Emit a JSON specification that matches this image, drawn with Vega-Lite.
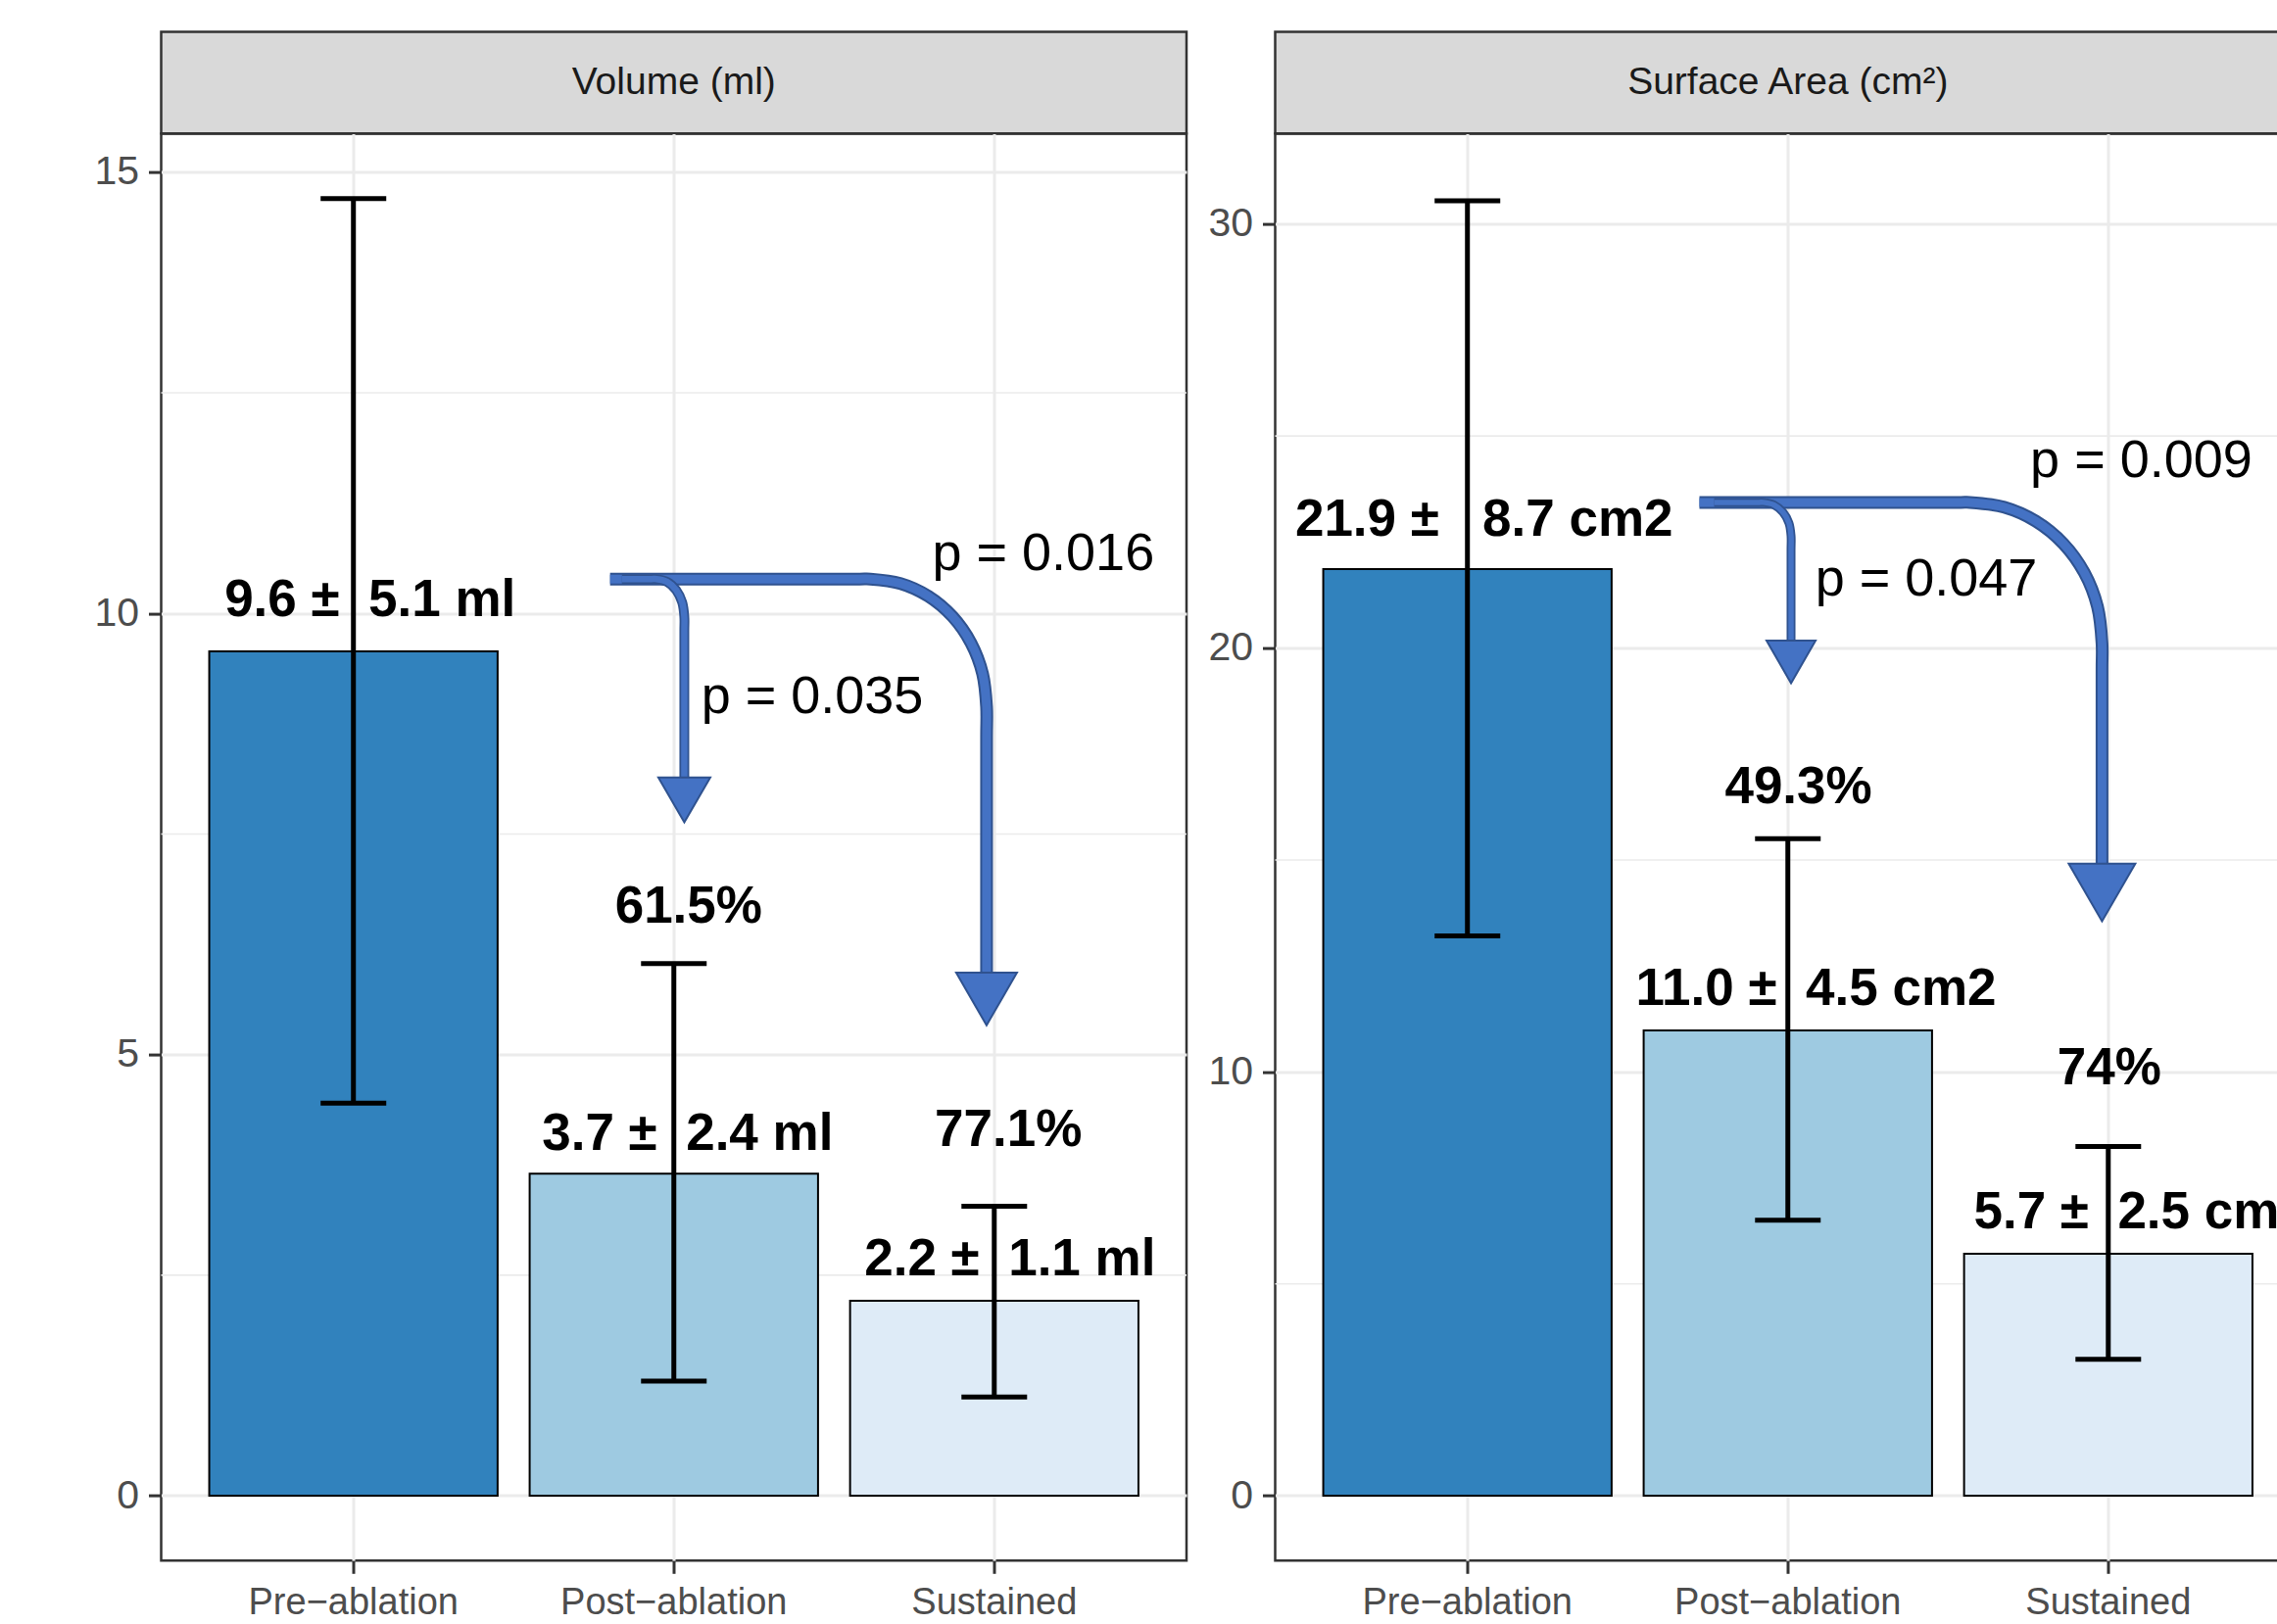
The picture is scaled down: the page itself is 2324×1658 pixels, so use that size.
{
  "$schema": "https://vega.github.io/schema/vega-lite/v6.json",
  "autosize": {"type": "none"},
  "padding": {"left": 164.5, "top": 32.6, "right": 2159.5, "bottom": 1625.4},
  "background": "white",
  "datasets": {
    "vol": [
      {"phase": "Pre−ablation", "mean": 9.57, "lo": 4.45, "hi": 14.7},
      {"phase": "Post−ablation", "mean": 3.65, "lo": 1.3, "hi": 6.03},
      {"phase": "Sustained", "mean": 2.21, "lo": 1.12, "hi": 3.28}
    ],
    "area": [
      {"phase": "Pre−ablation", "mean": 21.86, "lo": 13.21, "hi": 30.55},
      {"phase": "Post−ablation", "mean": 10.98, "lo": 6.5, "hi": 15.5},
      {"phase": "Sustained", "mean": 5.71, "lo": 3.22, "hi": 8.24}
    ],
    "vol_ann": [
      {"kind": "lab", "pos": 1.052, "y": 10.17, "text": "9.6 ±\u00a0 5.1 ml"},
      {"kind": "lab", "pos": 2.043, "y": 4.13, "text": "3.7 ±\u00a0 2.4 ml"},
      {"kind": "lab", "pos": 3.049, "y": 2.7, "text": "2.2 ±\u00a0 1.1 ml"},
      {"kind": "pct", "pos": 2.046, "y": 6.7, "text": "61.5%"},
      {"kind": "pct", "pos": 3.044, "y": 4.165, "text": "77.1%"},
      {"kind": "p", "pos": 2.432, "y": 9.071, "text": "p = 0.035"},
      {"kind": "p", "pos": 3.153, "y": 10.701, "text": "p = 0.016"}
    ],
    "area_ann": [
      {"kind": "lab", "pos": 1.052, "y": 23.07, "text": "21.9 ±\u00a0\u00a0 8.7 cm2"},
      {"kind": "lab", "pos": 2.088, "y": 12.0, "text": "11.0 ±\u00a0 4.5 cm2"},
      {"kind": "lab", "pos": 3.102, "y": 6.73, "text": "5.7 ±\u00a0 2.5 cm2"},
      {"kind": "pct", "pos": 2.033, "y": 16.764, "text": "49.3%"},
      {"kind": "pct", "pos": 3.003, "y": 10.127, "text": "74%"},
      {"kind": "p", "pos": 2.432, "y": 21.656, "text": "p = 0.047"},
      {"kind": "p", "pos": 3.103, "y": 24.461, "text": "p = 0.009"}
    ],
    "vol_arrows": [
      {"arrow": "L1", "i": 0, "pos": 1.801, "y": 10.389},
      {"arrow": "L1", "i": 1, "pos": 2.58, "y": 10.389},
      {"arrow": "L1", "i": 2, "pos": 2.6132, "y": 10.389},
      {"arrow": "L1", "i": 3, "pos": 2.707, "y": 10.339},
      {"arrow": "L1", "i": 4, "pos": 2.7946, "y": 10.194},
      {"arrow": "L1", "i": 5, "pos": 2.8698, "y": 9.964},
      {"arrow": "L1", "i": 6, "pos": 2.9274, "y": 9.664},
      {"arrow": "L1", "i": 7, "pos": 2.9637, "y": 9.315},
      {"arrow": "L1", "i": 8, "pos": 2.976, "y": 8.94},
      {"arrow": "L1", "i": 9, "pos": 2.976, "y": 8.6},
      {"arrow": "L1", "i": 10, "pos": 2.976, "y": 5.845},
      {"arrow": "L2", "i": 0, "pos": 1.838, "y": 10.389},
      {"arrow": "L2", "i": 1, "pos": 1.93, "y": 10.389},
      {"arrow": "L2", "i": 2, "pos": 1.9465, "y": 10.389},
      {"arrow": "L2", "i": 3, "pos": 1.9795, "y": 10.356},
      {"arrow": "L2", "i": 4, "pos": 2.0074, "y": 10.263},
      {"arrow": "L2", "i": 5, "pos": 2.0261, "y": 10.124},
      {"arrow": "L2", "i": 6, "pos": 2.0327, "y": 9.96},
      {"arrow": "L2", "i": 7, "pos": 2.0327, "y": 9.8},
      {"arrow": "L2", "i": 8, "pos": 2.0327, "y": 8.067}
    ],
    "vol_heads": [
      {"arrow": "L1", "pos": 2.976, "y": 5.63},
      {"arrow": "L2", "pos": 2.0327, "y": 7.886}
    ],
    "area_arrows": [
      {"arrow": "R1", "i": 0, "pos": 1.724, "y": 23.435},
      {"arrow": "R1", "i": 1, "pos": 2.54, "y": 23.435},
      {"arrow": "R1", "i": 2, "pos": 2.5678, "y": 23.435},
      {"arrow": "R1", "i": 3, "pos": 2.6746, "y": 23.322},
      {"arrow": "R1", "i": 4, "pos": 2.7741, "y": 22.99},
      {"arrow": "R1", "i": 5, "pos": 2.8596, "y": 22.463},
      {"arrow": "R1", "i": 6, "pos": 2.9252, "y": 21.776},
      {"arrow": "R1", "i": 7, "pos": 2.9664, "y": 20.975},
      {"arrow": "R1", "i": 8, "pos": 2.9805, "y": 20.116},
      {"arrow": "R1", "i": 9, "pos": 2.9805, "y": 19.5},
      {"arrow": "R1", "i": 10, "pos": 2.9805, "y": 14.779},
      {"arrow": "R2", "i": 0, "pos": 1.77, "y": 23.435},
      {"arrow": "R2", "i": 1, "pos": 1.91, "y": 23.435},
      {"arrow": "R2", "i": 2, "pos": 1.9238, "y": 23.435},
      {"arrow": "R2", "i": 3, "pos": 1.9568, "y": 23.375},
      {"arrow": "R2", "i": 4, "pos": 1.9847, "y": 23.204},
      {"arrow": "R2", "i": 5, "pos": 2.0034, "y": 22.949},
      {"arrow": "R2", "i": 6, "pos": 2.01, "y": 22.648},
      {"arrow": "R2", "i": 7, "pos": 2.01, "y": 22.3},
      {"arrow": "R2", "i": 8, "pos": 2.01, "y": 20.014}
    ],
    "area_heads": [
      {"arrow": "R1", "pos": 2.9805, "y": 14.232},
      {"arrow": "R2", "pos": 2.01, "y": 19.672}
    ]
  },
  "config": {
    "view": {"stroke": null},
    "text": {"font": "Liberation Sans"},
    "line": {"interpolate": "catmull-rom", "strokeCap": "butt", "strokeJoin": "round"},
    "axis": {
      "title": null,
      "domain": false,
      "grid": true,
      "gridColor": "#EBEBEB",
      "gridWidth": 3,
      "tickColor": "#333333",
      "tickWidth": 3,
      "tickSize": 13,
      "labelColor": "#4D4D4D",
      "labelFont": "Liberation Sans",
      "labelLimit": 1000
    },
    "axisX": {"labelFontSize": 38, "labelPadding": 11, "labelAngle": 0, "bandPosition": 0.5},
    "axisY": {"labelFontSize": 41, "labelPadding": 10}
  },
  "bounds": "flush",
  "columns": 2,
  "spacing": {"row": 0, "column": 90},
  "concat": [
    {
      "width": 1046.5,
      "height": 103.7,
      "view": {"fill": "#D9D9D9", "stroke": "#333333", "strokeWidth": 2.5},
      "data": {"values": [{"strip": "Volume (ml)"}]},
      "mark": {"type": "text", "fontSize": 39, "color": "#1A1A1A", "baseline": "middle", "align": "center"},
      "encoding": {"text": {"field": "strip"}}
    },
    {
      "width": 1046.5,
      "height": 103.7,
      "view": {"fill": "#D9D9D9", "stroke": "#333333", "strokeWidth": 2.5},
      "data": {"values": [{"strip": "Surface Area (cm²)"}]},
      "mark": {"type": "text", "fontSize": 39, "color": "#1A1A1A", "baseline": "middle", "align": "center"},
      "encoding": {"text": {"field": "strip"}}
    },
    {
      "width": 1046.5,
      "height": 1456.7,
      "view": {"stroke": "#333333", "strokeWidth": 2.5},
      "resolve": {"scale": {"x": "independent"}, "axis": {"x": "independent"}},
      "layer": [
        {
          "data": {"values": [{"g": 2.5}, {"g": 7.5}, {"g": 12.5}]},
          "mark": {"type": "rule", "color": "#EBEBEB", "strokeWidth": 1.6},
          "encoding": {"y": {"field": "g", "type": "quantitative", "scale": {"domain": [-0.735, 15.435], "nice": false, "zero": false}, "axis": {"values": [0, 5, 10, 15]}}}
        },
        {
          "data": {"name": "vol"},
          "encoding": {
            "x": {"field": "phase", "type": "nominal", "sort": ["Pre−ablation", "Post−ablation", "Sustained"], "scale": {"paddingInner": 0.1, "paddingOuter": 0.15}}
          },
          "layer": [
            {
              "mark": {"type": "bar", "stroke": "#000000", "strokeWidth": 2},
              "encoding": {
                "y": {"field": "mean", "type": "quantitative", "scale": {"domain": [-0.735, 15.435], "nice": false, "zero": false}, "axis": {"values": [0, 5, 10, 15]}},
                "y2": {"datum": 0},
                "color": {"field": "phase", "type": "nominal", "scale": {"domain": ["Pre−ablation", "Post−ablation", "Sustained"], "range": ["#3182BD", "#9ECAE1", "#DEEBF7"]}, "legend": null}
              }
            },
            {
              "mark": {"type": "rule", "color": "#000000", "strokeWidth": 5},
              "encoding": {
                "y": {"field": "lo", "type": "quantitative", "scale": {"domain": [-0.735, 15.435], "nice": false, "zero": false}, "axis": {"values": [0, 5, 10, 15]}},
                "y2": {"field": "hi"}
              }
            },
            {
              "mark": {"type": "tick", "color": "#000000", "thickness": 5, "size": 67, "opacity": 1},
              "encoding": {"y": {"field": "lo", "type": "quantitative", "scale": {"domain": [-0.735, 15.435], "nice": false, "zero": false}, "axis": {"values": [0, 5, 10, 15]}}}
            },
            {
              "mark": {"type": "tick", "color": "#000000", "thickness": 5, "size": 67, "opacity": 1},
              "encoding": {"y": {"field": "hi", "type": "quantitative", "scale": {"domain": [-0.735, 15.435], "nice": false, "zero": false}, "axis": {"values": [0, 5, 10, 15]}}}
            }
          ]
        },
        {
          "encoding": {
            "x": {"field": "pos", "type": "quantitative", "scale": {"domain": [0.4, 3.6], "nice": false, "zero": false}, "axis": null},
            "y": {"field": "y", "type": "quantitative", "scale": {"domain": [-0.735, 15.435], "nice": false, "zero": false}, "axis": {"values": [0, 5, 10, 15]}}
          },
          "layer": [
            {
              "data": {"name": "vol_ann"},
              "transform": [{"filter": "datum.kind !== 'p'"}],
              "mark": {"type": "text", "fontWeight": "bold", "fontSize": 53, "color": "#000000", "baseline": "middle", "dy": 2.5},
              "encoding": {"text": {"field": "text"}}
            },
            {
              "data": {"name": "vol_ann"},
              "transform": [{"filter": "datum.kind === 'p'"}],
              "mark": {"type": "text", "fontSize": 54, "color": "#000000", "baseline": "middle", "dy": 2.5},
              "encoding": {"text": {"field": "text"}}
            },
            {
              "data": {"name": "vol_arrows"},
              "transform": [{"filter": "datum.arrow === 'L1'"}],
              "mark": {"type": "line", "color": "#2F528F", "strokeWidth": 13},
              "encoding": {"order": {"field": "i", "type": "quantitative"}}
            },
            {
              "data": {"name": "vol_arrows"},
              "transform": [{"filter": "datum.arrow === 'L1'"}],
              "mark": {"type": "line", "color": "#4472C4", "strokeWidth": 9},
              "encoding": {"order": {"field": "i", "type": "quantitative"}}
            },
            {
              "data": {"name": "vol_heads"},
              "transform": [{"filter": "datum.arrow === 'L1'"}],
              "mark": {"type": "point", "shape": "triangle-down", "filled": true, "fill": "#4472C4", "stroke": "#2F528F", "strokeWidth": 2, "size": 3844, "opacity": 1}
            },
            {
              "data": {"name": "vol_arrows"},
              "transform": [{"filter": "datum.arrow === 'L2'"}],
              "mark": {"type": "line", "color": "#2F528F", "strokeWidth": 10},
              "encoding": {"order": {"field": "i", "type": "quantitative"}}
            },
            {
              "data": {"name": "vol_arrows"},
              "transform": [{"filter": "datum.arrow === 'L2'"}],
              "mark": {"type": "line", "color": "#4472C4", "strokeWidth": 6.5},
              "encoding": {"order": {"field": "i", "type": "quantitative"}}
            },
            {
              "data": {"name": "vol_heads"},
              "transform": [{"filter": "datum.arrow === 'L2'"}],
              "mark": {"type": "point", "shape": "triangle-down", "filled": true, "fill": "#4472C4", "stroke": "#2F528F", "strokeWidth": 2, "size": 2809, "opacity": 1}
            }
          ]
        }
      ]
    },
    {
      "width": 1046.5,
      "height": 1456.7,
      "view": {"stroke": "#333333", "strokeWidth": 2.5},
      "resolve": {"scale": {"x": "independent"}, "axis": {"x": "independent"}},
      "layer": [
        {
          "data": {"values": [{"g": 5}, {"g": 15}, {"g": 25}]},
          "mark": {"type": "rule", "color": "#EBEBEB", "strokeWidth": 1.6},
          "encoding": {"y": {"field": "g", "type": "quantitative", "scale": {"domain": [-1.53, 32.13], "nice": false, "zero": false}, "axis": {"values": [0, 10, 20, 30]}}}
        },
        {
          "data": {"name": "area"},
          "encoding": {
            "x": {"field": "phase", "type": "nominal", "sort": ["Pre−ablation", "Post−ablation", "Sustained"], "scale": {"paddingInner": 0.1, "paddingOuter": 0.15}}
          },
          "layer": [
            {
              "mark": {"type": "bar", "stroke": "#000000", "strokeWidth": 2},
              "encoding": {
                "y": {"field": "mean", "type": "quantitative", "scale": {"domain": [-1.53, 32.13], "nice": false, "zero": false}, "axis": {"values": [0, 10, 20, 30]}},
                "y2": {"datum": 0},
                "color": {"field": "phase", "type": "nominal", "scale": {"domain": ["Pre−ablation", "Post−ablation", "Sustained"], "range": ["#3182BD", "#9ECAE1", "#DEEBF7"]}, "legend": null}
              }
            },
            {
              "mark": {"type": "rule", "color": "#000000", "strokeWidth": 5},
              "encoding": {
                "y": {"field": "lo", "type": "quantitative", "scale": {"domain": [-1.53, 32.13], "nice": false, "zero": false}, "axis": {"values": [0, 10, 20, 30]}},
                "y2": {"field": "hi"}
              }
            },
            {
              "mark": {"type": "tick", "color": "#000000", "thickness": 5, "size": 67, "opacity": 1},
              "encoding": {"y": {"field": "lo", "type": "quantitative", "scale": {"domain": [-1.53, 32.13], "nice": false, "zero": false}, "axis": {"values": [0, 10, 20, 30]}}}
            },
            {
              "mark": {"type": "tick", "color": "#000000", "thickness": 5, "size": 67, "opacity": 1},
              "encoding": {"y": {"field": "hi", "type": "quantitative", "scale": {"domain": [-1.53, 32.13], "nice": false, "zero": false}, "axis": {"values": [0, 10, 20, 30]}}}
            }
          ]
        },
        {
          "encoding": {
            "x": {"field": "pos", "type": "quantitative", "scale": {"domain": [0.4, 3.6], "nice": false, "zero": false}, "axis": null},
            "y": {"field": "y", "type": "quantitative", "scale": {"domain": [-1.53, 32.13], "nice": false, "zero": false}, "axis": {"values": [0, 10, 20, 30]}}
          },
          "layer": [
            {
              "data": {"name": "area_ann"},
              "transform": [{"filter": "datum.kind !== 'p'"}],
              "mark": {"type": "text", "fontWeight": "bold", "fontSize": 53, "color": "#000000", "baseline": "middle", "dy": 2.5},
              "encoding": {"text": {"field": "text"}}
            },
            {
              "data": {"name": "area_ann"},
              "transform": [{"filter": "datum.kind === 'p'"}],
              "mark": {"type": "text", "fontSize": 54, "color": "#000000", "baseline": "middle", "dy": 2.5},
              "encoding": {"text": {"field": "text"}}
            },
            {
              "data": {"name": "area_arrows"},
              "transform": [{"filter": "datum.arrow === 'R1'"}],
              "mark": {"type": "line", "color": "#2F528F", "strokeWidth": 13},
              "encoding": {"order": {"field": "i", "type": "quantitative"}}
            },
            {
              "data": {"name": "area_arrows"},
              "transform": [{"filter": "datum.arrow === 'R1'"}],
              "mark": {"type": "line", "color": "#4472C4", "strokeWidth": 9},
              "encoding": {"order": {"field": "i", "type": "quantitative"}}
            },
            {
              "data": {"name": "area_heads"},
              "transform": [{"filter": "datum.arrow === 'R1'"}],
              "mark": {"type": "point", "shape": "triangle-down", "filled": true, "fill": "#4472C4", "stroke": "#2F528F", "strokeWidth": 2, "size": 4624, "opacity": 1}
            },
            {
              "data": {"name": "area_arrows"},
              "transform": [{"filter": "datum.arrow === 'R2'"}],
              "mark": {"type": "line", "color": "#2F528F", "strokeWidth": 9},
              "encoding": {"order": {"field": "i", "type": "quantitative"}}
            },
            {
              "data": {"name": "area_arrows"},
              "transform": [{"filter": "datum.arrow === 'R2'"}],
              "mark": {"type": "line", "color": "#4472C4", "strokeWidth": 5.5},
              "encoding": {"order": {"field": "i", "type": "quantitative"}}
            },
            {
              "data": {"name": "area_heads"},
              "transform": [{"filter": "datum.arrow === 'R2'"}],
              "mark": {"type": "point", "shape": "triangle-down", "filled": true, "fill": "#4472C4", "stroke": "#2F528F", "strokeWidth": 2, "size": 2500, "opacity": 1}
            }
          ]
        }
      ]
    }
  ]
}
